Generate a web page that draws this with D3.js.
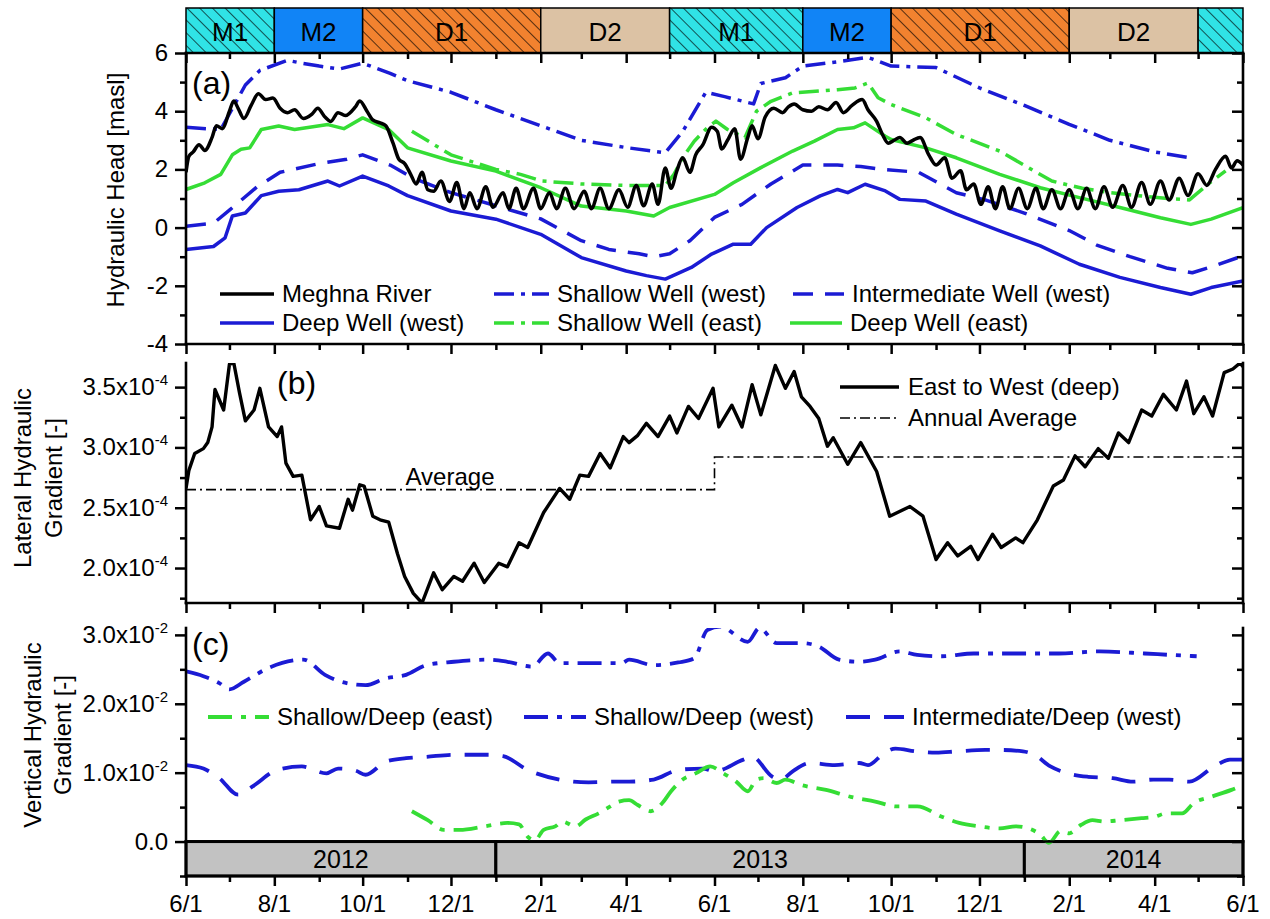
<!DOCTYPE html>
<html>
<head>
<meta charset="utf-8">
<script src="https://cdn.jsdelivr.net/npm/d3@7"></script>
<style>
  body { margin: 0; background: #fff; }
  svg text { font-family: "Liberation Sans", Arial, sans-serif; fill: #000; }
</style>
</head>
<body>
<svg id="chart" width="1270" height="919"></svg>
<script>
// ---------------- data ----------------
// Seasons shown in the strip above panel (a)
const seasons = [
  { kind: "M1", label: "M1", start: "2012-06-01", end: "2012-08-01" },
  { kind: "M2", label: "M2", start: "2012-08-01", end: "2012-10-01" },
  { kind: "D1", label: "D1", start: "2012-10-01", end: "2013-02-01" },
  { kind: "D2", label: "D2", start: "2013-02-01", end: "2013-05-01" },
  { kind: "M1", label: "M1", start: "2013-05-01", end: "2013-08-01" },
  { kind: "M2", label: "M2", start: "2013-08-01", end: "2013-10-01" },
  { kind: "D1", label: "D1", start: "2013-10-01", end: "2014-02-01" },
  { kind: "D2", label: "D2", start: "2014-02-01", end: "2014-05-01" },
  { kind: "M1", label: "",   start: "2014-05-01", end: "2014-06-01" }
];
const years = [
  { label: "2012", start: "2012-06-01", end: "2013-01-01" },
  { label: "2013", start: "2013-01-01", end: "2014-01-01" },
  { label: "2014", start: "2014-01-01", end: "2014-06-01" }
];

// x ticks
const xMajorTicks = ["2012-06-01","2012-08-01","2012-10-01","2012-12-01","2013-02-01","2013-04-01",
  "2013-06-01","2013-08-01","2013-10-01","2013-12-01","2014-02-01","2014-04-01","2014-06-01"];
const xMajorLabels = ["6/1","8/1","10/1","12/1","2/1","4/1","6/1","8/1","10/1","12/1","2/1","4/1","6/1"];
const xMinorTicks = ["2012-07-01","2012-09-01","2012-11-01","2013-01-01","2013-03-01","2013-05-01",
  "2013-07-01","2013-09-01","2013-11-01","2014-01-01","2014-03-01","2014-05-01"];

// y ticks
const headTicks = [-4, -2, 0, 2, 4, 6];
const headMinor = [-3, -1, 1, 3, 5];
const lateralTicks = [2.0e-4, 2.5e-4, 3.0e-4, 3.5e-4];
const lateralMinor = [1.75e-4, 2.25e-4, 2.75e-4, 3.25e-4];
const verticalTicks = [0, 0.01, 0.02, 0.03];
const verticalMinor = [-0.005, 0.005, 0.015, 0.025];

// (a) hydraulic heads [masl]
const meghnaRiver = [
  ["2012-06-01",1.9],["2012-06-03",2.45],["2012-06-06",2.6],["2012-06-10",2.85],["2012-06-14",2.65],
  ["2012-06-19",3.1],["2012-06-22",3.5],["2012-06-26",3.4],["2012-07-01",4.0],["2012-07-04",4.35],
  ["2012-07-07",4.1],["2012-07-11",3.75],["2012-07-16",4.2],["2012-07-21",4.6],["2012-07-26",4.4],
  ["2012-07-31",4.45],["2012-08-05",4.1],["2012-08-10",3.95],["2012-08-15",4.05],["2012-08-21",3.75],
  ["2012-08-27",3.9],["2012-08-31",4.1],["2012-09-05",3.8],["2012-09-09",3.65],["2012-09-14",3.95],
  ["2012-09-19",3.85],["2012-09-26",4.15],["2012-09-29",4.35],["2012-10-04",4.0],["2012-10-08",3.7],
  ["2012-10-13",3.6],["2012-10-17",3.5],["2012-10-22",2.9],["2012-10-26",2.35],["2012-10-30",2.2],
  ["2012-11-03",1.85],["2012-11-07",1.5],["2012-11-11",1.9],["2012-11-15",1.3],["2012-11-19",1.25],
  ["2012-11-24",1.6],["2012-11-30",0.9],["2012-12-05",1.55],["2012-12-10",0.65],["2012-12-14",1.2],
  ["2012-12-19",0.65],["2012-12-25",1.4],["2012-12-30",0.7],["2013-01-06",1.2],["2013-01-10",0.65],
  ["2013-01-15",1.35],["2013-01-20",0.65],["2013-01-27",1.35],["2013-02-01",0.65],["2013-02-07",1.2],
  ["2013-02-12",0.65],["2013-02-18",1.35],["2013-02-24",0.65],["2013-03-03",1.25],["2013-03-08",0.65],
  ["2013-03-14",1.35],["2013-03-20",0.65],["2013-03-27",1.3],["2013-04-02",0.7],["2013-04-08",1.45],
  ["2013-04-13",0.75],["2013-04-19",1.5],["2013-04-23",0.8],["2013-04-28",2.05],["2013-05-02",1.35],
  ["2013-05-06",1.95],["2013-05-10",2.4],["2013-05-15",1.9],["2013-05-19",2.5],["2013-05-24",2.85],
  ["2013-05-30",3.45],["2013-06-03",3.3],["2013-06-06",2.7],["2013-06-10",3.0],["2013-06-15",3.4],
  ["2013-06-19",2.35],["2013-06-24",3.1],["2013-06-27",3.5],["2013-07-01",3.05],["2013-07-06",3.8],
  ["2013-07-12",4.1],["2013-07-18",3.95],["2013-07-22",4.15],["2013-07-26",4.25],["2013-08-01",4.05],
  ["2013-08-07",4.0],["2013-08-12",4.15],["2013-08-18",4.05],["2013-08-24",4.3],["2013-08-29",3.95],
  ["2013-09-04",4.2],["2013-09-11",4.4],["2013-09-15",4.05],["2013-09-21",3.65],["2013-09-25",3.2],
  ["2013-09-29",2.9],["2013-10-03",3.0],["2013-10-07",3.1],["2013-10-12",2.9],["2013-10-16",3.0],
  ["2013-10-21",3.1],["2013-10-27",2.5],["2013-11-01",2.15],["2013-11-07",2.4],["2013-11-12",1.7],
  ["2013-11-18",1.95],["2013-11-22",1.3],["2013-11-27",1.5],["2013-12-02",0.8],["2013-12-07",1.4],
  ["2013-12-12",0.65],["2013-12-17",1.4],["2013-12-22",0.65],["2013-12-28",1.35],["2014-01-03",0.65],
  ["2014-01-09",1.35],["2014-01-14",0.65],["2014-01-20",1.3],["2014-01-26",0.65],["2014-02-01",1.3],
  ["2014-02-07",0.65],["2014-02-13",1.35],["2014-02-19",0.65],["2014-02-25",1.4],["2014-03-03",0.7],
  ["2014-03-10",1.45],["2014-03-16",0.7],["2014-03-23",1.55],["2014-03-29",0.8],["2014-04-05",1.6],
  ["2014-04-11",0.95],["2014-04-18",1.7],["2014-04-24",1.1],["2014-05-01",1.85],["2014-05-07",1.45],
  ["2014-05-13",2.0],["2014-05-20",2.45],["2014-05-24",2.05],["2014-05-28",2.3],["2014-06-01",2.15]
];
const shallowWest = [
  ["2012-06-01",3.45],["2012-06-15",3.4],["2012-06-25",3.37],["2012-07-12",4.9],["2012-07-22",5.4],
  ["2012-08-10",5.75],["2012-08-20",5.65],["2012-09-01",5.55],["2012-09-15",5.45],["2012-10-01",5.65],
  ["2012-10-20",5.3],["2012-11-01",5.05],["2012-12-01",4.65],["2013-01-01",4.05],["2013-02-01",3.5],
  ["2013-03-01",3.0],["2013-04-01",2.75],["2013-04-28",2.57],["2013-05-10",3.3],["2013-05-26",4.65],
  ["2013-06-08",4.5],["2013-06-28",4.25],["2013-07-03",4.95],["2013-07-20",5.15],["2013-08-01",5.55],
  ["2013-08-25",5.7],["2013-09-15",5.85],["2013-10-01",5.55],["2013-11-01",5.5],["2013-12-01",4.8],
  ["2014-01-01",4.2],["2014-02-01",3.55],["2014-03-01",3.0],["2014-04-01",2.6],["2014-04-25",2.4]
];
const intermediateWest = [
  ["2012-06-01",0.05],["2012-06-20",0.15],["2012-07-01",0.6],["2012-07-20",1.4],["2012-08-05",1.9],
  ["2012-09-01",2.2],["2012-09-20",2.35],["2012-10-01",2.5],["2012-10-20",2.15],["2012-11-05",1.7],
  ["2012-12-01",1.2],["2013-01-01",0.75],["2013-02-01",0.3],["2013-03-01",-0.45],["2013-03-20",-0.75],
  ["2013-04-10",-0.9],["2013-04-20",-1.0],["2013-05-01",-0.9],["2013-05-15",-0.45],["2013-06-01",0.35],
  ["2013-06-20",0.8],["2013-07-10",1.5],["2013-08-01",2.15],["2013-08-25",2.15],["2013-09-10",2.1],
  ["2013-09-25",2.0],["2013-10-20",1.9],["2013-11-15",1.2],["2013-12-05",0.95],["2014-01-01",0.5],
  ["2014-02-01",-0.1],["2014-02-20",-0.6],["2014-03-15",-1.0],["2014-04-10",-1.4],["2014-04-27",-1.55],
  ["2014-05-10",-1.35],["2014-06-01",-0.97]
];
const deepWest = [
  ["2012-06-01",-0.75],["2012-06-20",-0.65],["2012-06-28",-0.35],["2012-07-03",0.4],["2012-07-12",0.5],
  ["2012-07-23",1.1],["2012-08-04",1.25],["2012-08-18",1.3],["2012-09-07",1.6],["2012-09-15",1.43],
  ["2012-10-01",1.77],["2012-10-19",1.43],["2012-11-01",1.1],["2012-12-01",0.57],["2013-01-01",0.29],
  ["2013-02-01",-0.23],["2013-03-01",-1.03],["2013-04-01",-1.49],["2013-04-15",-1.65],["2013-04-28",-1.77],
  ["2013-05-16",-1.37],["2013-05-30",-0.91],["2013-06-14",-0.57],["2013-06-26",-0.57],["2013-07-07",0.0],
  ["2013-07-28",0.69],["2013-08-13",1.09],["2013-08-25",1.31],["2013-09-01",1.2],["2013-09-13",1.49],
  ["2013-09-27",1.26],["2013-10-07",0.97],["2013-10-25",0.91],["2013-11-15",0.46],["2013-12-15",-0.11],
  ["2014-01-12",-0.63],["2014-02-08",-1.26],["2014-03-08",-1.71],["2014-04-05",-2.06],["2014-04-26",-2.29],
  ["2014-05-10",-2.06],["2014-06-01",-1.83]
];
const shallowEast = [
  ["2012-11-04",3.31],["2012-12-01",2.5],["2013-01-01",2.0],["2013-01-18",1.83],["2013-02-02",1.6],
  ["2013-03-01",1.5],["2013-04-01",1.45],["2013-04-28",1.45],["2013-05-04",1.83],["2013-05-10",2.4],
  ["2013-05-18",2.97],["2013-05-27",3.43],["2013-06-02",3.66],["2013-06-10",3.37],["2013-06-22",3.09],
  ["2013-06-30",4.0],["2013-07-10",4.34],["2013-07-25",4.63],["2013-08-25",4.74],["2013-09-06",4.8],
  ["2013-09-15",4.97],["2013-09-22",4.46],["2013-10-01",4.23],["2013-10-25",3.77],["2013-11-15",3.2],
  ["2013-12-15",2.63],["2014-01-08",1.94],["2014-01-20",1.6],["2014-02-10",1.35],["2014-03-01",1.2],
  ["2014-03-20",1.1],["2014-04-10",1.0],["2014-04-25",0.95],["2014-05-08",1.5],["2014-05-20",1.95]
];
const deepEast = [
  ["2012-06-01",1.31],["2012-06-14",1.54],["2012-06-25",1.83],["2012-07-03",2.5],["2012-07-09",2.69],
  ["2012-07-15",2.74],["2012-07-23",3.37],["2012-08-04",3.49],["2012-08-15",3.37],["2012-09-07",3.54],
  ["2012-09-18",3.4],["2012-10-01",3.77],["2012-10-19",3.37],["2012-11-01",2.74],["2012-12-01",2.29],
  ["2013-01-01",1.94],["2013-02-01",1.37],["2013-03-01",0.74],["2013-04-01",0.57],["2013-04-20",0.4],
  ["2013-05-01",0.69],["2013-06-01",1.14],["2013-06-14",1.54],["2013-07-03",2.06],["2013-07-25",2.63],
  ["2013-08-09",2.97],["2013-08-25",3.37],["2013-09-05",3.43],["2013-09-13",3.6],["2013-09-27",3.14],
  ["2013-10-01",3.03],["2013-10-25",2.74],["2013-11-15",2.4],["2013-12-15",1.83],["2014-01-12",1.37],
  ["2014-02-08",1.03],["2014-03-08",0.69],["2014-04-05",0.34],["2014-04-26",0.11],["2014-05-10",0.29],
  ["2014-06-01",0.69]
];

// (b) lateral hydraulic gradient, east to west (deep) [-]
const lateralGradient = [
  ["2012-06-01",2.66e-4],["2012-06-03",2.81e-4],["2012-06-07",2.95e-4],["2012-06-13",2.99e-4],["2012-06-16",3.04e-4],
  ["2012-06-19",3.17e-4],["2012-06-21",3.48e-4],["2012-06-27",3.31e-4],["2012-07-01",3.69e-4],["2012-07-04",3.70e-4],
  ["2012-07-08",3.45e-4],["2012-07-12",3.22e-4],["2012-07-18",3.31e-4],["2012-07-22",3.49e-4],["2012-07-28",3.17e-4],
  ["2012-08-03",3.09e-4],["2012-08-06",3.17e-4],["2012-08-09",2.87e-4],["2012-08-14",2.76e-4],["2012-08-20",2.77e-4],
  ["2012-08-26",2.40e-4],["2012-09-01",2.51e-4],["2012-09-06",2.35e-4],["2012-09-15",2.33e-4],["2012-09-21",2.57e-4],
  ["2012-09-24",2.48e-4],["2012-09-29",2.69e-4],["2012-10-02",2.68e-4],["2012-10-08",2.43e-4],["2012-10-13",2.40e-4],
  ["2012-10-19",2.38e-4],["2012-10-25",2.12e-4],["2012-10-30",1.93e-4],["2012-11-05",1.79e-4],["2012-11-11",1.71e-4],
  ["2012-11-19",1.96e-4],["2012-11-25",1.82e-4],["2012-12-03",1.93e-4],["2012-12-09",1.89e-4],["2012-12-17",2.04e-4],
  ["2012-12-24",1.88e-4],["2013-01-03",2.04e-4],["2013-01-09",2.01e-4],["2013-01-17",2.21e-4],["2013-01-23",2.17e-4],
  ["2013-02-03",2.46e-4],["2013-02-14",2.66e-4],["2013-02-21",2.57e-4],["2013-02-28",2.77e-4],["2013-03-06",2.76e-4],
  ["2013-03-14",2.95e-4],["2013-03-21",2.83e-4],["2013-03-30",3.09e-4],["2013-04-03",3.04e-4],["2013-04-09",3.10e-4],
  ["2013-04-15",3.20e-4],["2013-04-23",3.09e-4],["2013-05-01",3.26e-4],["2013-05-06",3.12e-4],["2013-05-14",3.34e-4],
  ["2013-05-21",3.24e-4],["2013-05-31",3.49e-4],["2013-06-04",3.17e-4],["2013-06-13",3.35e-4],["2013-06-20",3.17e-4],
  ["2013-06-27",3.52e-4],["2013-07-03",3.27e-4],["2013-07-13",3.68e-4],["2013-07-20",3.49e-4],["2013-07-26",3.63e-4],
  ["2013-07-31",3.42e-4],["2013-08-06",3.34e-4],["2013-08-12",3.24e-4],["2013-08-18",3.01e-4],["2013-08-22",3.08e-4],
  ["2013-09-01",2.86e-4],["2013-09-10",3.04e-4],["2013-09-21",2.80e-4],["2013-09-30",2.43e-4],["2013-10-14",2.51e-4],
  ["2013-10-23",2.43e-4],["2013-11-01",2.07e-4],["2013-11-09",2.21e-4],["2013-11-16",2.10e-4],["2013-11-25",2.18e-4],
  ["2013-11-30",2.07e-4],["2013-12-10",2.28e-4],["2013-12-16",2.17e-4],["2013-12-26",2.25e-4],["2013-12-31",2.21e-4],
  ["2014-01-10",2.40e-4],["2014-01-21",2.68e-4],["2014-01-28",2.73e-4],["2014-02-05",2.93e-4],["2014-02-12",2.84e-4],
  ["2014-02-21",2.99e-4],["2014-02-28",2.91e-4],["2014-03-07",3.12e-4],["2014-03-14",3.04e-4],["2014-03-23",3.31e-4],
  ["2014-03-30",3.26e-4],["2014-04-07",3.44e-4],["2014-04-16",3.31e-4],["2014-04-23",3.55e-4],["2014-04-28",3.28e-4],
  ["2014-05-05",3.42e-4],["2014-05-11",3.26e-4],["2014-05-19",3.62e-4],["2014-05-25",3.65e-4],["2014-05-30",3.70e-4],
  ["2014-06-01",3.67e-4]
];
const annualAverage = [
  { start: "2012-06-01", end: "2013-06-01", value: 2.65e-4 },
  { start: "2013-06-01", end: "2014-06-01", value: 2.92e-4 }
];

// (c) vertical hydraulic gradients [-]
const shallowDeepEast = [
  ["2012-11-04",0.0044],["2012-11-15",0.0031],["2012-11-26",0.0017],["2012-12-07",0.0017],["2012-12-24",0.0022],
  ["2013-01-09",0.0027],["2013-01-17",0.0025],["2013-01-23",0.0007],["2013-01-28",0.0002],["2013-02-03",0.0017],
  ["2013-02-11",0.0022],["2013-02-16",0.0029],["2013-02-25",0.0022],["2013-03-04",0.0032],["2013-03-13",0.0041],
  ["2013-03-21",0.0051],["2013-03-27",0.0058],["2013-04-03",0.0060],["2013-04-09",0.0053],["2013-04-18",0.0044],
  ["2013-04-26",0.0056],["2013-05-02",0.0073],["2013-05-10",0.0090],["2013-05-19",0.0099],["2013-05-29",0.0109],
  ["2013-06-07",0.0099],["2013-06-16",0.0087],["2013-06-24",0.0073],["2013-06-30",0.0090],["2013-07-05",0.0092],
  ["2013-07-14",0.0085],["2013-07-20",0.0090],["2013-07-31",0.0082],["2013-08-17",0.0075],["2013-09-03",0.0065],
  ["2013-09-20",0.0058],["2013-10-05",0.0051],["2013-10-19",0.0051],["2013-11-05",0.0036],["2013-11-17",0.0027],
  ["2013-12-01",0.0022],["2013-12-15",0.0019],["2013-12-26",0.0022],["2014-01-04",0.0019],["2014-01-12",0.0010],
  ["2014-01-18",-0.0002],["2014-01-26",0.0015],["2014-02-01",0.0012],["2014-02-09",0.0024],["2014-02-17",0.0031],
  ["2014-02-25",0.0029],["2014-03-08",0.0031],["2014-03-23",0.0034],["2014-04-01",0.0036],["2014-04-09",0.0041],
  ["2014-04-20",0.0041],["2014-04-28",0.0056],["2014-05-10",0.0065],["2014-05-24",0.0075],["2014-06-01",0.0082]
];
const shallowDeepWest = [
  ["2012-06-01",0.0247],["2012-06-13",0.0240],["2012-06-24",0.0230],["2012-07-01",0.0221],["2012-07-11",0.0232],
  ["2012-07-28",0.0252],["2012-08-21",0.0264],["2012-09-05",0.0242],["2012-09-16",0.0232],["2012-10-03",0.0227],
  ["2012-10-17",0.0237],["2012-10-31",0.0242],["2012-11-14",0.0256],["2012-12-03",0.0261],["2012-12-26",0.0264],
  ["2013-01-09",0.0261],["2013-01-26",0.0254],["2013-02-06",0.0273],["2013-02-14",0.0259],["2013-03-06",0.0259],
  ["2013-03-29",0.0259],["2013-04-03",0.0264],["2013-04-20",0.0256],["2013-05-07",0.0260],["2013-05-18",0.0266],
  ["2013-05-27",0.0307],["2013-06-05",0.0312],["2013-06-24",0.0290],["2013-07-02",0.0310],["2013-07-14",0.0288],
  ["2013-08-01",0.0288],["2013-08-12",0.0283],["2013-08-26",0.0264],["2013-09-09",0.0261],["2013-09-20",0.0264],
  ["2013-10-07",0.0276],["2013-10-19",0.0271],["2013-11-05",0.0269],["2013-11-27",0.0273],["2013-12-28",0.0273],
  ["2014-01-25",0.0273],["2014-02-22",0.0276],["2014-03-25",0.0273],["2014-04-11",0.0271],["2014-04-30",0.0269]
];
const intermediateDeepWest = [
  ["2012-06-01",0.0111],["2012-06-13",0.0106],["2012-06-24",0.0092],["2012-07-07",0.0068],["2012-07-17",0.0080],
  ["2012-08-03",0.0104],["2012-08-20",0.0109],["2012-09-06",0.0099],["2012-09-14",0.0106],["2012-09-26",0.0103],
  ["2012-10-03",0.0097],["2012-10-17",0.0116],["2012-10-31",0.0121],["2012-11-14",0.0123],["2012-12-03",0.0126],
  ["2012-12-26",0.0126],["2013-01-06",0.0124],["2013-01-23",0.0104],["2013-02-14",0.0090],["2013-03-06",0.0086],
  ["2013-03-26",0.0087],["2013-04-03",0.0087],["2013-04-20",0.0090],["2013-05-07",0.0104],["2013-05-24",0.0106],
  ["2013-06-01",0.0102],["2013-06-21",0.0119],["2013-06-27",0.0123],["2013-07-11",0.0094],["2013-07-17",0.0090],
  ["2013-07-25",0.0102],["2013-08-06",0.0114],["2013-08-23",0.0111],["2013-09-09",0.0114],["2013-09-15",0.0111],
  ["2013-09-26",0.0128],["2013-10-04",0.0135],["2013-10-18",0.0131],["2013-11-01",0.0129],["2013-11-16",0.0131],
  ["2013-12-05",0.0133],["2013-12-14",0.0133],["2013-12-31",0.0131],["2014-01-08",0.0126],["2014-01-19",0.0109],
  ["2014-01-31",0.0099],["2014-02-14",0.0094],["2014-03-03",0.0092],["2014-03-17",0.0087],["2014-03-31",0.0090],
  ["2014-04-11",0.0090],["2014-04-25",0.0087],["2014-05-12",0.0109],["2014-05-23",0.0119],["2014-06-01",0.0119]
];

// ---------------- layout & scales ----------------
const P = d3.timeParse("%Y-%m-%d");
const X0 = 186, X1 = 1243;
const A = { top: 53, bottom: 344 };
const B = { top: 363, bottom: 603 };
const C = { top: 628, bottom: 876 };
const STRIP = { top: 8, bottom: 53 };

const x = d3.scaleTime().domain([P("2012-06-01"), P("2014-06-01")]).range([X0, X1]);
const yA = d3.scaleLinear().domain([-4, 6]).range([A.bottom, A.top]);
const yB = d3.scaleLinear().domain([1.71e-4, 3.70e-4]).range([B.bottom, B.top]);
const yC = d3.scaleLinear().domain([-0.005, 0.031]).range([C.bottom, C.top]);

const BLUE = "#1b1bd4", GREEN = "#35dd35", BLACK = "#000";
const DASHDOT = "20,7,4,7", DASH = "20,12";
const DASHDOT_C = "24,9,5,9", DASH_C = "24,14";

const svg = d3.select("#chart");
const defs = svg.append("defs");

// diagonal hatching for M1 / D1 seasons
const hatch = defs.append("pattern").attr("id", "hatch")
  .attr("patternUnits", "userSpaceOnUse").attr("width", 9).attr("height", 9)
  .attr("patternTransform", "rotate(-45)");
hatch.append("line").attr("x1", 0).attr("y1", 0).attr("x2", 0).attr("y2", 9)
  .attr("stroke", "#000").attr("stroke-width", 1.3);

function clip(id, box) {
  defs.append("clipPath").attr("id", id).append("rect")
    .attr("x", X0).attr("y", box.top).attr("width", X1 - X0).attr("height", box.bottom - box.top);
}
clip("clipA", A); clip("clipB", B); clip("clipC", C);

// ---------------- season strip ----------------
const seasonFill = { M1: "#30e3e6", M2: "#1184f6", D1: "#f2822f", D2: "#dcc2a4" };
const hatched = { M1: true, D1: true };
const strip = svg.append("g");
seasons.forEach(s => {
  const x0 = x(P(s.start)), x1 = x(P(s.end));
  strip.append("rect").attr("x", x0).attr("y", STRIP.top).attr("width", x1 - x0)
    .attr("height", STRIP.bottom - STRIP.top).attr("fill", seasonFill[s.kind]);
  if (hatched[s.kind]) {
    strip.append("rect").attr("x", x0).attr("y", STRIP.top).attr("width", x1 - x0)
      .attr("height", STRIP.bottom - STRIP.top).attr("fill", "url(#hatch)");
  }
  strip.append("rect").attr("x", x0).attr("y", STRIP.top).attr("width", x1 - x0)
    .attr("height", STRIP.bottom - STRIP.top).attr("fill", "none")
    .attr("stroke", "#000").attr("stroke-width", 1.5);
  if (s.label) {
    strip.append("text").attr("x", (x0 + x1) / 2).attr("y", 41).attr("text-anchor", "middle")
      .attr("font-size", 26).text(s.label);
  }
});

// ---------------- year band in panel (c) ----------------
const band = svg.append("g");
years.forEach(yr => {
  const x0 = x(P(yr.start)), x1 = x(P(yr.end));
  band.append("rect").attr("x", x0).attr("y", yC(0)).attr("width", x1 - x0)
    .attr("height", yC(-0.005) - yC(0)).attr("fill", "#c2c2c2")
    .attr("stroke", "#000").attr("stroke-width", 3);
  band.append("text").attr("x", (x0 + x1) / 2).attr("y", 868).attr("text-anchor", "middle")
    .attr("font-size", 25).text(yr.label);
});

// ---------------- axes helpers ----------------
function yTicks(scale, values, size, side) {
  const axis = side === "left" ? d3.axisLeft(scale) : d3.axisRight(scale);
  const g = svg.append("g").attr("transform", `translate(${side === "left" ? X0 : X1},0)`)
    .call(axis.tickValues(values).tickSize(side === "left" ? size : -size).tickSizeOuter(0).tickFormat(""));
  g.select(".domain").remove();
  g.selectAll("line").attr("stroke", "#000").attr("stroke-width", 2.5);
}
function xTicks(yPos, values, size, inward) {
  const axis = inward ? d3.axisTop(x) : d3.axisBottom(x);
  const g = svg.append("g").attr("transform", `translate(0,${yPos})`)
    .call(axis.tickValues(values.map(P)).tickSize(inward ? -size : size).tickSizeOuter(0).tickFormat(""));
  g.select(".domain").remove();
  g.selectAll("line").attr("stroke", "#000").attr("stroke-width", 2.5);
}
function frameLine(x1, y1, x2, y2) {
  svg.append("line").attr("x1", x1).attr("y1", y1).attr("x2", x2).attr("y2", y2)
    .attr("stroke", "#000").attr("stroke-width", 2.6).attr("stroke-linecap", "square");
}
function sciLabel(v, scale, power) {
  const t = svg.append("text").attr("x", 168).attr("y", scale(v) + 8)
    .attr("text-anchor", "end").attr("font-size", 24);
  if (v === 0) { t.text("0.0"); return; }
  t.append("tspan").text((v / Math.pow(10, power)).toFixed(1) + "x10");
  t.append("tspan").attr("font-size", 15).attr("dy", -10).text(String(power));
}
function drawSeries(g, data, line, color, dash, width) {
  g.append("path").datum(data).attr("d", line).attr("fill", "none")
    .attr("stroke", color).attr("stroke-width", width || 3.5)
    .attr("stroke-dasharray", dash || null).attr("stroke-linejoin", "round");
}

// ---------------- panel (a) ----------------
const gA = svg.append("g").attr("clip-path", "url(#clipA)");
const lineA = d3.line().x(d => x(P(d[0]))).y(d => yA(d[1]));
const riverLine = d3.line().curve(d3.curveMonotoneX).x(d => x(P(d[0]))).y(d => yA(d[1]));
drawSeries(gA, deepWest, lineA, BLUE);
drawSeries(gA, intermediateWest, lineA, BLUE, DASH);
drawSeries(gA, shallowWest, lineA, BLUE, DASHDOT);
drawSeries(gA, deepEast, lineA, GREEN);
drawSeries(gA, shallowEast, lineA, GREEN, DASHDOT);
drawSeries(gA, meghnaRiver, riverLine, BLACK);

frameLine(X0, A.top, X0, A.bottom);
frameLine(X1, A.top, X1, A.bottom);
frameLine(X0, A.top, X1, A.top);
frameLine(X0, A.bottom, X1, A.bottom);
yTicks(yA, headTicks, 11, "left");
yTicks(yA, headMinor, 6, "left");
yTicks(yA, headTicks, 11, "right");
yTicks(yA, headMinor, 6, "right");
xTicks(A.top, xMajorTicks, 10, true);
xTicks(A.top, xMinorTicks, 6, true);
xTicks(A.bottom, xMajorTicks, 10, false);
xTicks(A.bottom, xMinorTicks, 6, false);
headTicks.forEach(v => {
  svg.append("text").attr("x", 168).attr("y", yA(v) + 8).attr("text-anchor", "end")
    .attr("font-size", 24).text(String(v));
});
svg.append("text").attr("transform", "translate(124,190) rotate(-90)").attr("text-anchor", "middle")
  .attr("font-size", 24).text("Hydraulic Head [masl]");
svg.append("text").attr("x", 192).attr("y", 94).attr("font-size", 32).text("(a)");

// legend (a)
const legendA = [
  { name: "Meghna River",              color: BLACK, dash: null,    lx: 220, tx: 282, row: 0 },
  { name: "Shallow Well (west)",       color: BLUE,  dash: DASHDOT, lx: 494, tx: 557, row: 0 },
  { name: "Intermediate Well (west)",  color: BLUE,  dash: DASH,    lx: 793, tx: 852, row: 0 },
  { name: "Deep Well (west)",          color: BLUE,  dash: null,    lx: 220, tx: 282, row: 1 },
  { name: "Shallow Well (east)",       color: GREEN, dash: DASHDOT, lx: 494, tx: 557, row: 1 },
  { name: "Deep Well (east)",          color: GREEN, dash: null,    lx: 790, tx: 850, row: 1 }
];
legendA.forEach(l => {
  const ly = 294 + l.row * 29;
  svg.append("line").attr("x1", l.lx).attr("x2", l.tx - 8).attr("y1", ly).attr("y2", ly)
    .attr("stroke", l.color).attr("stroke-width", 3.5).attr("stroke-dasharray", l.dash);
  svg.append("text").attr("x", l.tx).attr("y", ly + 8).attr("font-size", 24).text(l.name);
});

// ---------------- panel (b) ----------------
const gB = svg.append("g").attr("clip-path", "url(#clipB)");
const lineB = d3.line().x(d => x(P(d[0]))).y(d => yB(d[1]));
let avgPath = "";
annualAverage.forEach((a, i) => {
  const xs = x(P(a.start)), xe = x(P(a.end)), yv = yB(a.value);
  avgPath += (i === 0 ? `M${xs},${yv}` : `L${xs},${yv}`) + `L${xe},${yv}`;
});
gB.append("path").attr("d", avgPath).attr("fill", "none").attr("stroke", "#000")
  .attr("stroke-width", 1.6).attr("stroke-dasharray", "10,4,2,4");
drawSeries(gB, lateralGradient, lineB, BLACK, null, 3.4);

frameLine(X0, B.top, X0, B.bottom);
frameLine(X1, B.top, X1, B.bottom);
frameLine(X0, B.bottom, X1, B.bottom);
yTicks(yB, lateralTicks, 11, "left");
yTicks(yB, lateralMinor, 6, "left");
yTicks(yB, lateralTicks, 11, "right");
yTicks(yB, lateralMinor, 6, "right");
xTicks(B.bottom, xMajorTicks, 10, false);
xTicks(B.bottom, xMinorTicks, 6, false);
lateralTicks.forEach(v => sciLabel(v, yB, -4));
const titleB = svg.append("text").attr("transform", "translate(0,478) rotate(-90)")
  .attr("text-anchor", "middle").attr("font-size", 24);
titleB.append("tspan").attr("x", 0).attr("y", 31).text("Lateral Hydraulic");
titleB.append("tspan").attr("x", 0).attr("y", 62).text("Gradient [-]");
svg.append("text").attr("x", 277).attr("y", 394).attr("font-size", 32).text("(b)");
svg.append("text").attr("x", 450).attr("y", 485).attr("text-anchor", "middle")
  .attr("font-size", 24).text("Average");

// legend (b)
svg.append("line").attr("x1", 840).attr("x2", 899).attr("y1", 387).attr("y2", 387)
  .attr("stroke", "#000").attr("stroke-width", 3.5);
svg.append("text").attr("x", 908).attr("y", 395).attr("font-size", 24).text("East to West (deep)");
svg.append("line").attr("x1", 840).attr("x2", 899).attr("y1", 418).attr("y2", 418)
  .attr("stroke", "#000").attr("stroke-width", 1.6).attr("stroke-dasharray", "10,4,2,4");
svg.append("text").attr("x", 908).attr("y", 426).attr("font-size", 24).text("Annual Average");

// ---------------- panel (c) ----------------
const gC = svg.append("g").attr("clip-path", "url(#clipC)");
const lineC = d3.line().curve(d3.curveMonotoneX).x(d => x(P(d[0]))).y(d => yC(d[1]));
drawSeries(gC, shallowDeepWest, lineC, BLUE, DASHDOT_C, 3.8);
drawSeries(gC, intermediateDeepWest, lineC, BLUE, DASH_C, 3.8);
drawSeries(gC, shallowDeepEast, lineC, GREEN, DASHDOT_C, 3.8);

frameLine(X0, C.top, X0, C.bottom);
frameLine(X1, C.top, X1, C.bottom);
frameLine(X0, C.bottom, X1, C.bottom);
frameLine(X0, yC(0), X1, yC(0));
yTicks(yC, verticalTicks, 11, "left");
yTicks(yC, verticalMinor, 6, "left");
yTicks(yC, verticalTicks, 11, "right");
yTicks(yC, verticalMinor, 6, "right");
xTicks(C.bottom, xMajorTicks, 10, false);
xTicks(C.bottom, xMinorTicks, 6, false);
verticalTicks.forEach(v => sciLabel(v, yC, -2));
const titleC = svg.append("text").attr("transform", "translate(0,735) rotate(-90)")
  .attr("text-anchor", "middle").attr("font-size", 24);
titleC.append("tspan").attr("x", 0).attr("y", 41).text("Vertical Hydraulic");
titleC.append("tspan").attr("x", 0).attr("y", 71).text("Gradient [-]");
svg.append("text").attr("x", 192).attr("y", 655).attr("font-size", 32).text("(c)");

// x tick labels
xMajorTicks.forEach((d, i) => {
  svg.append("text").attr("x", x(P(d))).attr("y", 912).attr("text-anchor", "middle")
    .attr("font-size", 24).text(xMajorLabels[i]);
});

// legend (c)
const legendC = [
  { name: "Shallow/Deep (east)",      color: GREEN, dash: DASHDOT_C, lx: 208, tx: 277 },
  { name: "Shallow/Deep (west)",      color: BLUE,  dash: DASHDOT_C, lx: 524, tx: 594 },
  { name: "Intermediate/Deep (west)", color: BLUE,  dash: DASH_C,    lx: 846, tx: 912 }
];
legendC.forEach(l => {
  svg.append("line").attr("x1", l.lx).attr("x2", l.tx - 8).attr("y1", 717).attr("y2", 717)
    .attr("stroke", l.color).attr("stroke-width", 3.8).attr("stroke-dasharray", l.dash);
  svg.append("text").attr("x", l.tx).attr("y", 725).attr("font-size", 24).text(l.name);
});
</script>
</body>
</html>
